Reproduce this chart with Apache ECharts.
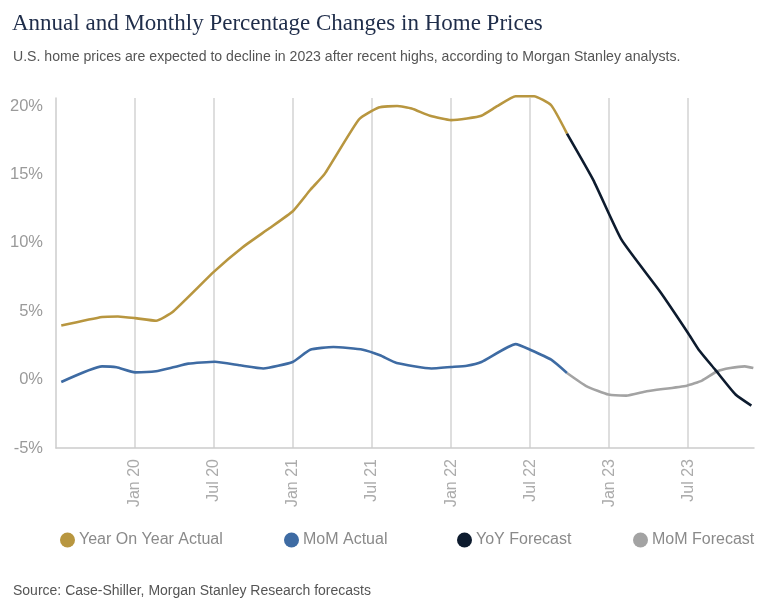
<!DOCTYPE html>
<html>
<head>
<meta charset="utf-8">
<script src="https://cdn.jsdelivr.net/npm/echarts@6/dist/echarts.min.js"></script>
<style>
html,body{margin:0;padding:0;background:#fff;}
#chart{width:772px;height:605px;}
</style>
</head>
<body>
<div id="chart"></div>
<script>
// x values are months relative to Jan 2020 (0 = Jan 20)
var tickMonths = [0, 6, 12, 18, 24, 30, 36, 42];
var tickLabels = ["Jan 20", "Jul 20", "Jan 21", "Jul 21", "Jan 22", "Jul 22", "Jan 23", "Jul 23"];
var yTicks = [-5, 0, 5, 10, 15, 20];

var seriesNames = ["Year On Year Actual", "MoM Actual", "YoY Forecast", "MoM Forecast"];

var yoyActualX = [-5.6, -2.5, -1.3, 0, 1.6, 2.9, 6.0, 8.2, 10.2, 12.0, 13.3, 14.4, 17.0, 18.5, 19.9, 21.0, 22.4, 24.0, 25.2, 26.3, 27.5, 28.9, 30.3, 31.6, 32.8];
var yoyActualY = [3.96, 4.58, 4.62, 4.50, 4.31, 4.99, 7.9, 9.7, 11.07, 12.34, 13.87, 15.05, 19.03, 19.9, 20.02, 19.83, 19.3, 18.98, 19.1, 19.3, 20.0, 20.73, 20.73, 20.07, 18.0];

var yoyForecastX = [32.8, 34.8, 36.95, 39.86, 42.0, 42.8, 44.05, 45.6, 46.8];
var yoyForecastY = [18.0, 14.6, 10.22, 6.45, 3.4, 2.19, 0.73, -1.09, -1.9];

var momActualX = [-5.6, -2.5, -1.4, 0, 1.6, 2.9, 4.05, 6.07, 7.97, 9.74, 11.97, 13.3, 15.06, 17.3, 18.6, 19.87, 22.5, 24.0, 25.2, 26.3, 28.9, 30.0, 31.6, 32.8];
var momActualY = [-0.17, 0.97, 0.9, 0.53, 0.61, 0.9, 1.17, 1.31, 1.05, 0.82, 1.29, 2.19, 2.39, 2.19, 1.78, 1.22, 0.82, 0.93, 1.02, 1.29, 2.6, 2.19, 1.46, 0.49];

var momForecastX = [32.8, 34.3, 35.95, 37.3, 38.85, 41.9, 43.05, 44.2, 45.2, 46.3, 46.95];
var momForecastY = [0.49, -0.49, -1.09, -1.17, -0.85, -0.44, -0.07, 0.61, 0.85, 0.97, 0.85];

var colors = ["#B8963F", "#3E6BA3", "#0D1B2E", "#A3A3A3"];

function pairs(xs, ys) { return xs.map(function (x, i) { return [x, ys[i]]; }); }

var chart = echarts.init(document.getElementById('chart'), null, {renderer: 'canvas'});

function lineSeries(name, xs, ys, color, z) {
  return {
    name: name, type: 'line', data: pairs(xs, ys), showSymbol: false, symbol: 'none',
    smooth: 0.15, clip: false, z: z,
    lineStyle: {color: color, width: 2.6}, itemStyle: {color: color}
  };
}

function legendAt(left, name) {
  return {
    left: left, top: 532, padding: 0, itemGap: 0, itemWidth: 15, itemHeight: 15,
    icon: 'circle', selectedMode: false, data: [name],
    textStyle: {fontFamily: 'Liberation Sans, Arial, sans-serif', fontSize: 16, color: '#8a8a8a', padding: [0, 0, 0, -1]}
  };
}

var option = {
  backgroundColor: '#ffffff',
  animation: false,
  color: colors,
  title: [
    {text: 'Annual and Monthly Percentage Changes in Home Prices', left: 7, top: 7,
     textStyle: {fontFamily: 'Liberation Serif, serif', fontSize: 23, fontWeight: 'normal', color: '#1F2D4A'}},
    {text: 'U.S. home prices are expected to decline in 2023 after recent highs, according to Morgan Stanley analysts.', left: 8, top: 45,
     textStyle: {fontFamily: 'Liberation Sans, Arial, sans-serif', fontSize: 14.1, fontWeight: 'normal', color: '#555555'}},
    {text: 'Source: Case-Shiller, Morgan Stanley Research forecasts', left: 8, top: 579,
     textStyle: {fontFamily: 'Liberation Sans, Arial, sans-serif', fontSize: 14, fontWeight: 'normal', color: '#555555'}}
  ],
  legend: [
    legendAt(60, seriesNames[0]),
    legendAt(284, seriesNames[1]),
    legendAt(457, seriesNames[2]),
    legendAt(633, seriesNames[3])
  ],
  grid: {left: 56, right: 18, top: 98, bottom: 157, containLabel: false},
  xAxis: {
    type: 'value', min: -6, max: 47, interval: 6,
    axisLine: {show: true, onZero: false, lineStyle: {color: '#cccccc', width: 1.5}},
    axisTick: {show: false},
    splitLine: {show: true, showMinLine: false, showMaxLine: false, lineStyle: {color: '#d3d3d3', width: 1.5}},
    axisLabel: {
      rotate: 90, margin: 11, fontFamily: 'Liberation Sans, Arial, sans-serif', fontSize: 16, color: '#ababab',
      showMinLabel: false, showMaxLabel: false,
      formatter: function (v) { var i = tickMonths.indexOf(v); return i >= 0 ? tickLabels[i] : ''; }
    }
  },
  yAxis: {
    type: 'value', min: -5, max: 20.6, interval: 5,
    axisLine: {show: true, onZero: false, lineStyle: {color: '#cccccc', width: 1.5}},
    axisTick: {show: false},
    splitLine: {show: false},
    axisLabel: {
      margin: 13, fontFamily: 'Liberation Sans, Arial, sans-serif', fontSize: 16.5, color: '#9a9a9a',
      showMaxLabel: false,
      formatter: function (v) { return yTicks.indexOf(v) >= 0 ? v + '%' : ''; }
    }
  },
  series: [
    lineSeries(seriesNames[0], yoyActualX, yoyActualY, colors[0], 3),
    lineSeries(seriesNames[1], momActualX, momActualY, colors[1], 3),
    lineSeries(seriesNames[2], yoyForecastX, yoyForecastY, colors[2], 4),
    lineSeries(seriesNames[3], momForecastX, momForecastY, colors[3], 2)
  ]
};
chart.setOption(option);
</script>
</body>
</html>
